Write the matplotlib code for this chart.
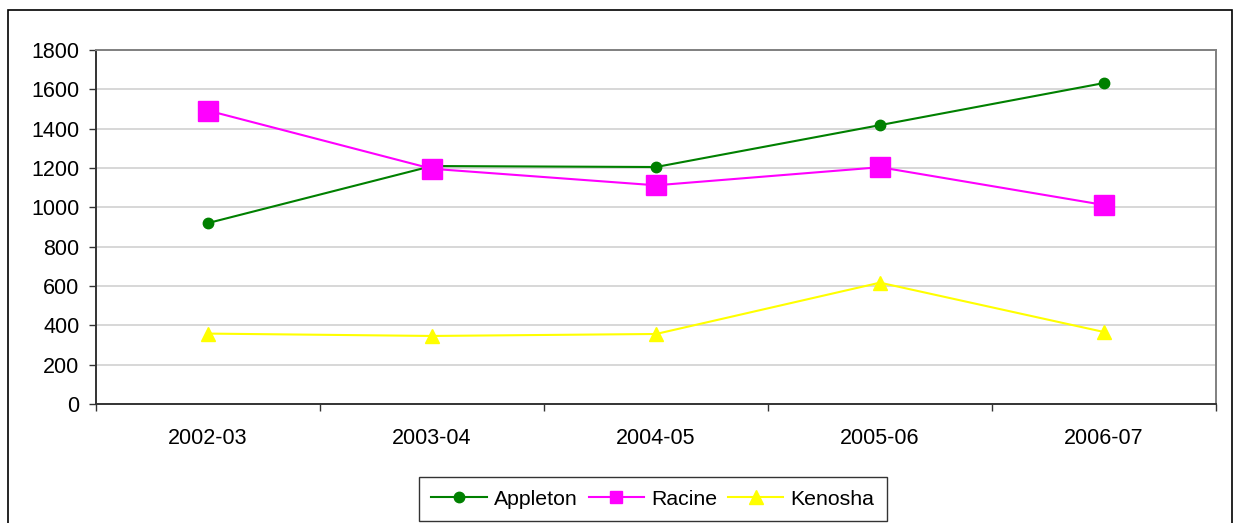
import numpy as np
import matplotlib
matplotlib.use("Agg")
import matplotlib.pyplot as plt
from matplotlib.patches import Rectangle

plt.rcParams['font.family'] = ['Liberation Sans', 'DejaVu Sans']

# datos
temporadas = ["2002-03", "2003-04", "2004-05", "2005-06", "2006-07"]
appleton = [920, 1210, 1205, 1418, 1632]
racine = [1492, 1196, 1112, 1204, 1012]
kenosha = [358, 346, 356, 617, 366]

W, H = 1235, 523
fig = plt.figure(figsize=(W / 100, H / 100), dpi=100)
ax = fig.add_axes([96 / W, 1 - 404 / H, (1216 - 96) / W, (404 - 50) / H])

x = np.arange(len(temporadas))
ax.plot(x, appleton, color="#008000", lw=1.5, marker="o", ms=7.5, label="Appleton", zorder=3)
ax.plot(x, racine, color="#ff00ff", lw=1.5, marker="s", ms=14, label="Racine", zorder=3)
ax.plot(x, kenosha, color="#ffff00", lw=1.5, marker="^", ms=10.5, label="Kenosha", zorder=3)

ax.set_xlim(-0.5, len(temporadas) - 0.5)
ax.set_ylim(0, 1800)
ax.set_yticks(np.arange(0, 1801, 200))
ax.set_xticks(x)
ax.set_xticklabels(temporadas)
ax.set_xticks(np.arange(-0.5, len(temporadas), 1), minor=True)
ax.tick_params(axis="x", which="major", length=0, pad=17, labelsize=15.5)
ax.tick_params(axis="x", which="minor", length=5, width=1, direction="out", color="#333333")
ax.tick_params(axis="y", length=5, width=1, direction="out", labelsize=15.5, color="#333333", pad=7)

ax.yaxis.grid(True, color="#d4d4d4", lw=1.3)
ax.set_axisbelow(True)
for s in ["left", "bottom"]:
    ax.spines[s].set_color("#333333")
    ax.spines[s].set_linewidth(1.4)
for s in ["top", "right"]:
    ax.spines[s].set_color("#808080")
    ax.spines[s].set_linewidth(1.4)

# marco exterior
fig.patches.append(Rectangle((8 / W, -0.05), (1232 - 8) / W, 1 - 10 / H + 0.05,
                             transform=fig.transFigure, fill=False, ec="black", lw=1.2))

leg = fig.legend(loc="lower center", bbox_to_anchor=(653 / W, -9 / H), ncol=3, fontsize=15.3,
                 frameon=True, fancybox=False, edgecolor="black", handlelength=2.6,
                 columnspacing=0.5, handletextpad=0.35, borderpad=0.6, borderaxespad=0.5)
leg.get_frame().set_linewidth(1.0)
for h, m in zip(leg.legend_handles, [7.5, 8.5, 9.5]):
    h.set_markersize(m)

fig.savefig("out.png", dpi=100)
